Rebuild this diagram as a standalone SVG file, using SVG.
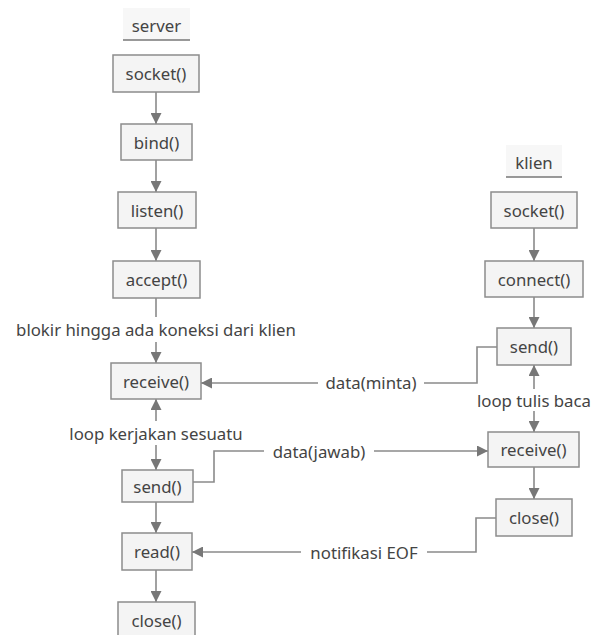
<svg xmlns="http://www.w3.org/2000/svg" width="592" height="635" viewBox="0 0 592 635">
<defs>
<style>
text{font-family:"Noto Sans","Open Sans","DejaVu Sans",sans-serif;font-size:16.8px;fill:#444444;text-anchor:middle;dominant-baseline:central}
.box{fill:#f4f4f4;stroke:#8c8c8c;stroke-width:1.5}
.lbl{fill:#f7f7f7;stroke:none}
.ul{stroke:#777;stroke-width:1.5}
.ln{fill:none;stroke:#8a8a8a;stroke-width:1.6}
.bg{fill:#ffffff}
</style>
<marker id="ah" viewBox="0 0 10 10" refX="10" refY="5" markerWidth="11" markerHeight="11" markerUnits="userSpaceOnUse" orient="auto">
<path d="M0,0 L10,5 L0,10 Z" fill="#777777"/>
</marker>
</defs>
<rect width="592" height="635" fill="#ffffff"/>

<g id="connectors">
<line class="ln" x1="156" y1="92" x2="156" y2="124" marker-end="url(#ah)"/>
<line class="ln" x1="156" y1="160" x2="156" y2="192" marker-end="url(#ah)"/>
<line class="ln" x1="156" y1="228" x2="156" y2="261" marker-end="url(#ah)"/>
<line class="ln" x1="156" y1="298" x2="156" y2="317"/>
<line class="ln" x1="156" y1="342" x2="156" y2="363" marker-end="url(#ah)"/>
<line class="ln" x1="156" y1="421" x2="156" y2="399" marker-end="url(#ah)"/>
<line class="ln" x1="156" y1="445" x2="156" y2="470" marker-end="url(#ah)"/>
<line class="ln" x1="156" y1="502" x2="156" y2="533" marker-end="url(#ah)"/>
<line class="ln" x1="156" y1="570" x2="156" y2="602" marker-end="url(#ah)"/>
<line class="ln" x1="534" y1="228" x2="534" y2="261" marker-end="url(#ah)"/>
<line class="ln" x1="534" y1="297" x2="534" y2="328" marker-end="url(#ah)"/>
<line class="ln" x1="534" y1="389" x2="534" y2="365" marker-end="url(#ah)"/>
<line class="ln" x1="534" y1="411" x2="534" y2="432" marker-end="url(#ah)"/>
<line class="ln" x1="534" y1="467" x2="534" y2="499" marker-end="url(#ah)"/>
<path class="ln" d="M497,347 H477 V383 H201" marker-end="url(#ah)"/>
<rect class="bg" x="318" y="373" width="106" height="20"/>
<text x="371" y="382">data(minta)</text>
<path class="ln" d="M193,482 H214 V451 H488" marker-end="url(#ah)"/>
<rect class="bg" x="264" y="441" width="110" height="20"/>
<text x="319" y="451">data(jawab)</text>
<path class="ln" d="M496,518 H476 V552 H192" marker-end="url(#ah)"/>
<rect class="bg" x="301" y="542" width="126" height="20"/>
<text x="364" y="552">notifikasi EOF</text>
</g>

<g id="server-label">
<rect class="lbl" x="123" y="8" width="67" height="32"/>
<line class="ul" x1="123" y1="40" x2="190" y2="40"/>
<text x="156.5" y="25">server</text>
</g>
<g id="s-socket"><rect class="box" x="113" y="55" width="86" height="37"/><text x="156" y="73">socket()</text></g>
<g id="s-bind"><rect class="box" x="121" y="124" width="71" height="36"/><text x="156.5" y="142">bind()</text></g>
<g id="s-listen"><rect class="box" x="118" y="192" width="78" height="36"/><text x="157" y="210">listen()</text></g>
<g id="s-accept"><rect class="box" x="113" y="261" width="87" height="37"/><text x="156.5" y="279">accept()</text></g>
<g id="blokir"><text x="156" y="329">blokir hingga ada koneksi dari klien</text></g>
<g id="s-receive"><rect class="box" x="111" y="363" width="90" height="36"/><text x="156" y="381">receive()</text></g>
<g id="loop-kerjakan"><text x="156" y="433">loop kerjakan sesuatu</text></g>
<g id="s-send"><rect class="box" x="122" y="470" width="71" height="32"/><text x="157.5" y="486">send()</text></g>
<g id="s-read"><rect class="box" x="122" y="533" width="70" height="37"/><text x="157" y="551">read()</text></g>
<g id="s-close"><rect class="box" x="118" y="602" width="77" height="37"/><text x="156.5" y="620">close()</text></g>

<g id="client-label">
<rect class="lbl" x="506" y="145" width="56" height="32"/>
<line class="ul" x1="506" y1="177" x2="562" y2="177"/>
<text x="534" y="162">klien</text>
</g>
<g id="c-socket"><rect class="box" x="491" y="192" width="86" height="36"/><text x="534" y="210">socket()</text></g>
<g id="c-connect"><rect class="box" x="485" y="261" width="98" height="36"/><text x="534" y="279">connect()</text></g>
<g id="c-send"><rect class="box" x="497" y="328" width="74" height="37"/><text x="534" y="346">send()</text></g>
<g id="loop-tulis"><text x="534" y="400">loop tulis baca</text></g>
<g id="c-receive"><rect class="box" x="488" y="432" width="91" height="35"/><text x="533.5" y="449.5">receive()</text></g>
<g id="c-close"><rect class="box" x="496" y="499" width="76" height="37"/><text x="534" y="517.5">close()</text></g>
</svg>
